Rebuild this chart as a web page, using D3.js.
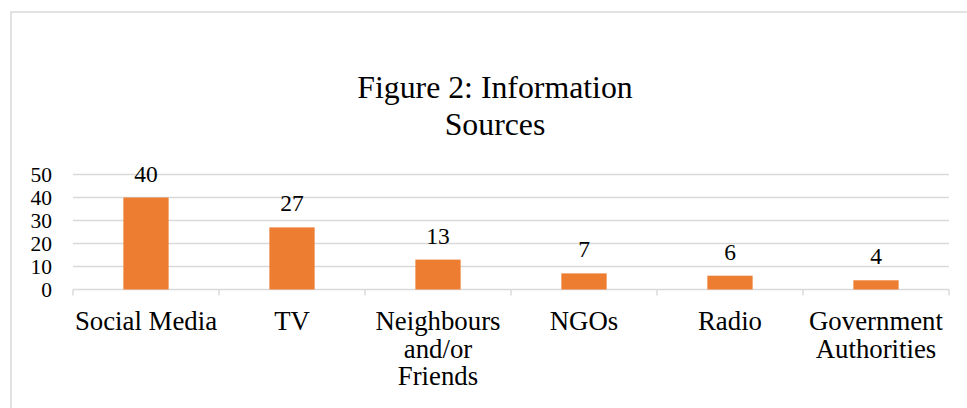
<!DOCTYPE html>
<html>
<head>
<meta charset="utf-8">
<script src="https://cdn.jsdelivr.net/npm/d3@7"></script>
<style>
  html, body { margin:0; padding:0; background:#fff; }
  svg { display:block; font-family:"Liberation Serif","Times New Roman",serif; }
  .grid line { stroke:#d9d9d9; stroke-width:1.4; }
  .xaxis path, .xaxis line { stroke:#d9d9d9; stroke-width:1.4; }
</style>
</head>
<body>
<svg id="chart" width="967" height="408"></svg>
<script>
// chart data
const categories = ['Social Media', 'TV', 'Neighbours and/or Friends', 'NGOs', 'Radio', 'Government Authorities'];
const values = [40, 27, 13, 7, 6, 4];
const yTicks = [0, 10, 20, 30, 40, 50];
const titleLines = ['Figure 2: Information', 'Sources'];

const W = 967, H = 408;
const m = {left:73, right:18, top:174.5, bottom:118.5};
const svg = d3.select('#chart');

// outer chart frame (only top + left edges fall inside the window)
svg.append('rect')
  .attr('x', 11).attr('y', 12).attr('width', 1000).attr('height', 500)
  .attr('fill', 'none').attr('stroke', '#d9d9d9').attr('stroke-width', 1.5);

const x = d3.scaleBand().domain(categories).range([m.left, W - m.right]).paddingInner(0.69).paddingOuter(0.345);
const y = d3.scaleLinear().domain([0, 50]).range([H - m.bottom, m.top]);

// gridlines
svg.append('g').attr('class','grid')
  .selectAll('line').data(yTicks.filter(t => t > 0)).join('line')
  .attr('x1', m.left).attr('x2', W - m.right)
  .attr('y1', d => y(d)).attr('y2', d => y(d));

// y tick labels
svg.append('g').selectAll('text').data(yTicks).join('text')
  .attr('x', 52).attr('y', d => y(d)).attr('dy', '0.35em')
  .attr('text-anchor', 'end').attr('font-size', 21.5).attr('fill', '#000')
  .text(d => d);

// x axis with category-boundary ticks
const step = x.step();
const xEdge = d3.scaleLinear().domain([0, categories.length]).range([m.left, W - m.right]);
const gx = svg.append('g').attr('class','xaxis');
gx.append('line').attr('x1', m.left).attr('x2', W - m.right).attr('y1', y(0)).attr('y2', y(0));
gx.selectAll('line.tk').data(d3.range(categories.length + 1)).join('line').attr('class','tk')
  .attr('x1', d => xEdge(d)).attr('x2', d => xEdge(d))
  .attr('y1', y(0)).attr('y2', y(0) + 6);

// bars
svg.append('g').selectAll('rect').data(values).join('rect')
  .attr('x', (d, i) => x(categories[i]))
  .attr('width', x.bandwidth())
  .attr('y', d => y(d))
  .attr('height', d => y(0) - y(d))
  .attr('fill', '#ED7D31');

// data labels
svg.append('g').selectAll('text').data(values).join('text')
  .attr('x', (d, i) => x(categories[i]) + x.bandwidth() / 2)
  .attr('y', d => y(d) - 16)
  .attr('text-anchor', 'middle').attr('font-size', 23.5).attr('fill', '#000')
  .text(d => d);

// category labels, wrapped to band width
function wrapWords(words, maxW, size){
  const probe = svg.append('text').attr('font-size', size);
  const lines = []; let cur = '';
  words.forEach(w => {
    const t = cur ? cur + ' ' + w : w;
    probe.text(t);
    if (cur && probe.node().getComputedTextLength() > maxW){ lines.push(cur); cur = w; }
    else cur = t;
  });
  if (cur) lines.push(cur);
  probe.remove();
  return lines;
}
const catG = svg.append('g');
const catSize = 26.8;
categories.forEach((c, i) => {
  const lines = wrapWords(c.split(' '), step + 2, catSize);
  const t = catG.append('text')
    .attr('x', xEdge(i) + step / 2).attr('y', 330)
    .attr('text-anchor', 'middle').attr('font-size', catSize).attr('fill', '#000');
  lines.forEach((l, k) => t.append('tspan').attr('x', xEdge(i) + step / 2).attr('dy', k ? 27.5 : 0).text(l));
});

// title
const tt = svg.append('text').attr('text-anchor','middle').attr('font-size', 31.8).attr('fill','#000');
titleLines.forEach((l, k) => tt.append('tspan').attr('x', 495).attr('y', 98 + k * 37).text(l));
</script>
</body>
</html>
